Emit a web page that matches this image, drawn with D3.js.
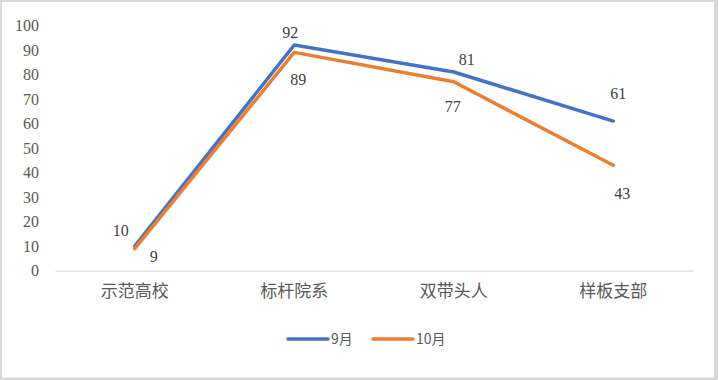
<!DOCTYPE html>
<html><head><meta charset="utf-8">
<script src="https://cdn.jsdelivr.net/npm/d3@7"></script>
<style>body{margin:0;background:#fff}svg{display:block}</style>
</head><body>
<svg id="c" width="718" height="380"></svg>
<script>
const categories = ["示范高校", "标杆院系", "双带头人", "样板支部"];
const seriesNames = ["9月", "10月"];
const sep = [10, 92, 81, 61];
const oct = [9, 89, 77, 43];
const yTicks = [0, 10, 20, 30, 40, 50, 60, 70, 80, 90, 100];
// label placement offsets (layout only)
const sepLabelOff = [[-14, -16], [-4, -13], [13, -13], [5, -28]];
const octLabelOff = [[19, 8], [4, 27], [-1, 25], [9, 28]];

const colors = ["#4472C4", "#ED7D31"];
const SERIF = '"Liberation Serif"';
const CJK = '"Noto Sans CJK SC"';
const svg = d3.select("#c");
svg.append("rect").attr("x", 0).attr("y", 0).attr("width", 718).attr("height", 380).attr("fill", "#d9d9d9");
svg.append("rect").attr("x", 2).attr("y", 2).attr("width", 712).attr("height", 375.5).attr("fill", "#fff");

const x = d3.scaleBand().domain(categories).range([55, 693]);
const y = d3.scaleLinear().domain([0, 100]).range([270.7, 25.4]);

// y axis labels
const yAxis = d3.axisLeft(y).tickValues(yTicks).tickSize(0).tickPadding(0);
const gy = svg.append("g").attr("transform", "translate(39,0)").call(yAxis);
gy.select(".domain").remove();
gy.selectAll("text").style("font-family", SERIF).style("font-size", "16px").attr("fill", "#595959");

// x axis
const xAxis = d3.axisBottom(x).tickSize(0).tickPadding(14);
const gx = svg.append("g").attr("transform", "translate(0,270.7)").call(xAxis);
gx.select(".domain").attr("stroke", "#d9d9d9").attr("stroke-width", 1.2);
gx.selectAll("text").style("font-family", CJK).style("font-size", "17px").attr("fill", "#595959");

const cx = c => x(c) + x.bandwidth() / 2;
const line = d3.line().x((d, i) => cx(categories[i])).y(d => y(d));

[sep, oct].forEach((data, si) => {
  svg.append("path").datum(data).attr("d", line).attr("fill", "none")
    .attr("stroke", colors[si]).attr("stroke-width", 3.5)
    .attr("stroke-linejoin", "round").attr("stroke-linecap", "round");
});

[[sep, sepLabelOff], [oct, octLabelOff]].forEach(([data, off]) => {
  svg.append("g").selectAll("text").data(data).join("text")
    .attr("x", (d, i) => cx(categories[i]) + off[i][0])
    .attr("y", (d, i) => y(d) + off[i][1])
    .attr("dy", "0.35em")
    .attr("text-anchor", "middle")
    .style("font-family", SERIF).style("font-size", "16px").attr("fill", "#404040")
    .text(d => d);
});

// legend
const legend = [{x: 288, w: 40, tx: 331}, {x: 373, w: 40, tx: 416}];
legend.forEach((l, i) => {
  svg.append("line").attr("x1", l.x).attr("x2", l.x + l.w).attr("y1", 339).attr("y2", 339)
    .attr("stroke", colors[i]).attr("stroke-width", 3.5).attr("stroke-linecap", "round");
  svg.append("text").attr("x", l.tx).attr("y", 339).attr("dy", "0.35em")
    .style("font-family", CJK).style("font-size", "14px").attr("fill", "#595959").text(seriesNames[i]);
});
</script>
</body></html>
